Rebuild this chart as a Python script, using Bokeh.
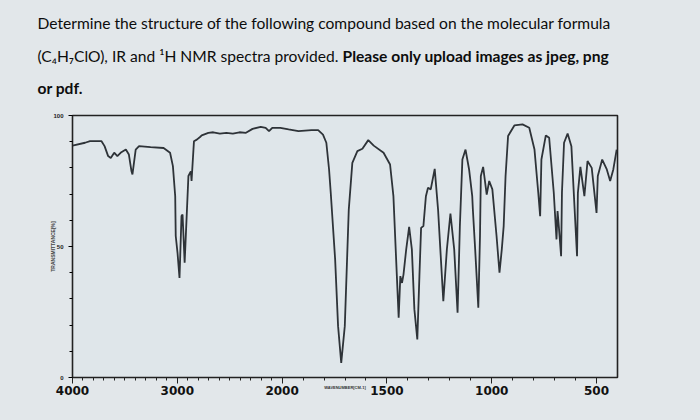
import numpy as np
from bokeh.plotting import figure
from bokeh.layouts import column, row
from bokeh.models import Range1d, FixedTicker, Label, ColumnDataSource
from bokeh.embed import file_html
from bokeh.resources import INLINE

# ---- data (IR spectrum) ----
wavenumber = [4000, 3880, 3833, 3723, 3694, 3660, 3635, 3602, 3572, 3534, 3491, 3462,
              3437, 3428, 3397, 3365, 3255, 3131, 3069, 3042, 3020, 3015, 2998, 2979,
              2960, 2950, 2930, 2894, 2871, 2864, 2841, 2814, 2783, 2767, 2704, 2657,
              2594, 2532, 2470, 2407, 2345, 2282, 2204, 2157, 2125, 2094, 2017, 1969,
              1922, 1860, 1828, 1805, 1789, 1776, 1768, 1747, 1733, 1718, 1701, 1682,
              1665, 1641, 1617, 1589, 1563, 1516, 1485, 1469, 1456, 1444, 1436, 1428,
              1421, 1408, 1394, 1381, 1369, 1355, 1345, 1337, 1326, 1314, 1304, 1291,
              1272, 1256, 1231, 1214, 1197, 1179, 1163, 1152, 1140, 1125, 1108, 1093,
              1090, 1079, 1064, 1056, 1052, 1041, 1024, 1012, 997, 977, 963, 952,
              943, 934, 922, 892, 853, 821, 796, 778, 769, 763, 742, 726,
              704, 691, 686, 680, 669, 665, 655, 638, 620, 593, 589, 577,
              558, 543, 523, 500, 494, 473, 451, 435, 420, 404]
transmittance = [88.5, 89.6, 90.2, 90.2, 88.3, 84.5, 83.8, 85.8, 84.5, 86.0, 87.0, 85.1,
                 78.7, 77.5, 87.0, 88.3, 87.9, 87.6, 85.8, 80.7, 69.2, 54.0, 47.6, 38.0,
                 61.6, 62.2, 43.8, 76.9, 78.7, 75.0, 90.2, 90.8, 91.8, 92.4, 93.4, 93.6,
                 93.1, 93.4, 93.1, 93.6, 93.4, 94.9, 95.7, 95.3, 94.0, 95.3, 95.3, 94.7,
                 94.0, 94.4, 94.4, 92.7, 89.6, 79.4, 70.5, 45.0, 19.6, 5.6, 19.6, 64.1,
                 81.9, 86.4, 87.3, 90.6, 88.5, 85.8, 81.3, 69.2, 45.0, 22.8, 38.7, 36.1,
                 39.3, 48.9, 57.5, 48.9, 26.0, 14.5, 38.7, 57.1, 57.8, 69.2, 72.4, 71.8,
                 79.6, 64.1, 29.1, 48.9, 62.6, 48.9, 24.7, 57.8, 83.2, 87.0, 79.4, 69.2,
                 64.1, 48.9, 26.6, 54.0, 76.9, 80.4, 69.8, 75.0, 71.8, 54.0, 40.0, 48.9,
                 57.8, 76.9, 92.2, 96.2, 96.6, 95.3, 87.0, 70.5, 61.6, 83.2, 92.4, 91.5,
                 70.5, 52.7, 63.5, 57.8, 46.3, 70.5, 89.6, 93.1, 88.3, 46.3, 70.5, 80.4,
                 69.2, 82.6, 80.0, 62.8, 76.9, 83.2, 79.4, 75.0, 79.4, 87.0]

x_tick_values = [4000, 3000, 2000, 1500, 1000, 500]
x_tick_labels = ["4000", "3000", "2000", "1500", "1000", "500"]
y_tick_values = [0, 50, 100]
y_tick_labels = ["0", "50", "100"]

question_line1 = "Determine the structure of the following compound based on the molecular formula"
question_line2a = "(C\u2084H\u2087ClO), IR and \u00b9H NMR spectra provided."
question_line2b = "Please only upload images as jpeg, png"
question_line3 = "or pdf."


def to_axis(w):
    """IR chart scale change at 2000 cm-1: twice the length per cm-1 below 2000."""
    w = np.asarray(w, dtype=float)
    return np.where(w >= 2000, (4000 - w) / 1000.0, 2 + (2000 - w) / 500.0)


BG = "#e2e7ea"

# ---- text panel above the chart ----
TOP_H = 100
t = figure(width=700, height=TOP_H, x_range=Range1d(0, 700), y_range=Range1d(0, TOP_H),
           x_axis_type=None, y_axis_type=None, output_backend="svg", toolbar_location=None,
           min_border_left=0, min_border_right=0, min_border_top=0, min_border_bottom=0)
t.outline_line_color = None
t.background_fill_color = BG
t.border_fill_color = BG
t.grid.visible = False
common = dict(x_units="screen", y_units="screen", text_baseline="middle", text_color="#0d0d0d",
              text_font="Lato", text_font_size="15.6px")
t.add_layout(Label(x=37, y=TOP_H - 22, text=question_line1, **common))
t.add_layout(Label(x=37, y=TOP_H - 55, text=question_line2a, **common))
t.add_layout(Label(x=342, y=TOP_H - 55, text=question_line2b, text_font_style="bold", **common))
t.add_layout(Label(x=37, y=TOP_H - 87, text=question_line3, text_font_style="bold", **common))

# ---- spectrum chart ----
src = ColumnDataSource(dict(x=to_axis(wavenumber), y=transmittance))
p = figure(width=700, height=420 - TOP_H, x_range=Range1d(0, float(to_axis(400))), y_range=Range1d(0, 100),
           output_backend="svg", toolbar_location=None,
           min_border_left=72, min_border_right=83, min_border_top=115 - TOP_H, min_border_bottom=43)
p.background_fill_color = "#dfe6ea"
p.border_fill_color = BG
p.grid.visible = False
p.outline_line_color = "#222222"
p.outline_line_width = 1.6

p.line("x", "y", source=src, line_color="#2e3338", line_width=1.8)

# x axis
major_u = [float(v) for v in to_axis(x_tick_values)]
minor_w = [w for w in range(3900, 400, -100) if w not in x_tick_values]
p.xaxis.ticker = FixedTicker(ticks=major_u, minor_ticks=[float(v) for v in to_axis(minor_w)])
p.xaxis.major_label_overrides = {int(round(u)): lab for u, lab in zip(major_u, x_tick_labels)}
p.xaxis.major_label_text_font = "DejaVu Sans"
p.xaxis.major_label_text_font_style = "bold"
p.xaxis.major_label_text_font_size = "12px"
p.xaxis.major_label_text_color = "#111111"
p.xaxis.major_tick_out = 6
p.xaxis.major_tick_in = 0
p.xaxis.minor_tick_out = 3
p.xaxis.minor_tick_in = 0
p.xaxis.axis_line_color = "#222222"
p.xaxis.major_tick_line_color = "#222222"
p.xaxis.minor_tick_line_color = "#222222"
p.xaxis.major_label_standoff = 2
p.xaxis.axis_label = "WAVENUMBER[CM-1]"
p.xaxis.axis_label_text_font_size = "4px"
p.xaxis.axis_label_text_font_style = "bold"
p.xaxis.axis_label_text_color = "#333333"
p.xaxis.axis_label_standoff = -13

# y axis
p.yaxis.ticker = FixedTicker(ticks=y_tick_values, minor_ticks=list(range(10, 100, 10)))
p.yaxis.major_label_overrides = {v: lab for v, lab in zip(y_tick_values, y_tick_labels)}
p.yaxis.major_label_text_font_size = "6px"
p.yaxis.major_label_text_font_style = "bold"
p.yaxis.major_label_text_color = "#222222"
p.yaxis.major_tick_out = 4
p.yaxis.major_tick_in = 0
p.yaxis.minor_tick_out = 3
p.yaxis.minor_tick_in = 0
p.yaxis.axis_line_color = "#222222"
p.yaxis.axis_label = "TRANSMITTANCE[%]"
p.yaxis.axis_label_text_font_size = "5px"
p.yaxis.axis_label_text_font_style = "bold"
p.yaxis.axis_label_standoff = -6

layout = column(row(t), row(p), spacing=0, styles={"background-color": BG})
open("out.html", "w").write(file_html(layout, INLINE))
